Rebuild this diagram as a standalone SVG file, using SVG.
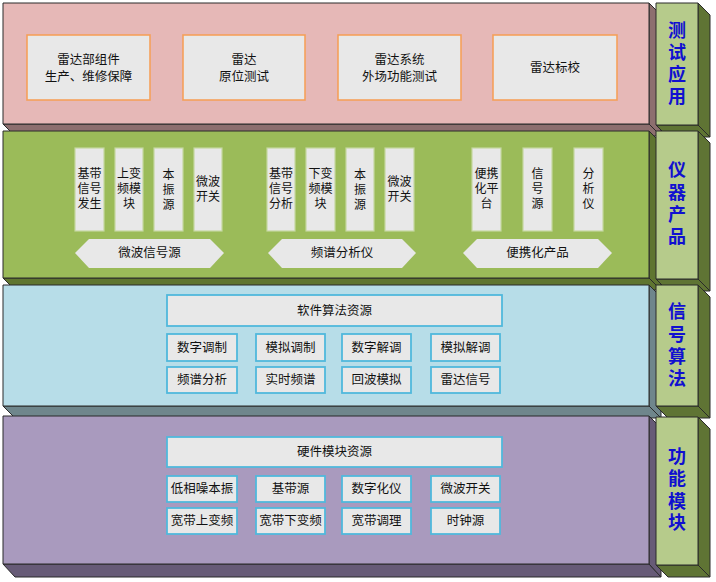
<svg xmlns="http://www.w3.org/2000/svg" width="716" height="582" viewBox="0 0 716 582">
<style>
text{font-family:"Liberation Sans","Noto Sans CJK SC",sans-serif;font-size:12.5px;fill:#111;text-anchor:middle;dominant-baseline:central}
.v{font-size:12px}
.lbl{font-size:18px;font-weight:bold;fill:#1010d0}
.edge{stroke:#2a2a2a;stroke-width:1;stroke-linejoin:round}
.b1{fill:#e8e8e8;stroke:#f5a05a;stroke-width:1.6}
.b2{fill:#e8e8e8;stroke:#c5d8a0;stroke-width:1.2}
.b3{fill:#e8e8e8;stroke:#50b8dc;stroke-width:1.8}
.hex{fill:#e8e8e8}
.side{fill:#b6cb8b}
.sideD{fill:#5f7434}
</style>
<rect width="716" height="582" fill="#ffffff"/>

<!-- Layer 1 -->
<g id="layer1">
<polygon class="edge" fill="#8d6f6f" points="3,124 649,124 661,136 15,136"/>
<polygon class="edge" fill="#8d6f6f" points="649,3 661,15 661,136 649,124"/>
<rect class="edge" x="3" y="3" width="646" height="121" fill="#e6b8b7"/>
<g id="n_l1a"><rect class="b1" x="27" y="35" width="123" height="65"/><text><tspan x="88.5" y="60">雷达部组件</tspan><tspan x="88.5" y="77">生产、维修保障</tspan></text></g>
<g id="n_l1b"><rect class="b1" x="183" y="35" width="122" height="65"/><text><tspan x="244" y="60">雷达</tspan><tspan x="244" y="77">原位测试</tspan></text></g>
<g id="n_l1c"><rect class="b1" x="338" y="35" width="123" height="65"/><text><tspan x="399.5" y="60">雷达系统</tspan><tspan x="399.5" y="77">外场功能测试</tspan></text></g>
<g id="n_l1d"><rect class="b1" x="493" y="35" width="124" height="65"/><text x="555" y="68">雷达标校</text></g>
</g>

<!-- Layer 2 -->
<g id="layer2">
<polygon class="edge" fill="#5f7530" points="3,278 649,278 661,290 15,290"/>
<polygon class="edge" fill="#5f7530" points="649,131 661,143 661,290 649,278"/>
<rect class="edge" x="3" y="131" width="646" height="147" fill="#9bbb59"/>
<g id="n_l2a"><rect class="b2" x="75" y="148" width="29" height="83"/><text class="v"><tspan x="89.5" y="174">基带</tspan><tspan x="89.5" y="189">信号</tspan><tspan x="89.5" y="204">发生</tspan></text></g>
<g id="n_l2b"><rect class="b2" x="115" y="148" width="28" height="83"/><text class="v"><tspan x="129" y="174">上变</tspan><tspan x="129" y="189">频模</tspan><tspan x="129" y="204">块</tspan></text></g>
<g id="n_l2c"><rect class="b2" x="154" y="148" width="29" height="83"/><text class="v"><tspan x="168.5" y="175">本</tspan><tspan x="168.5" y="190">振</tspan><tspan x="168.5" y="205">源</tspan></text></g>
<g id="n_l2d"><rect class="b2" x="194" y="148" width="28" height="83"/><text class="v"><tspan x="208" y="182">微波</tspan><tspan x="208" y="197">开关</tspan></text></g>
<g id="n_l2e"><rect class="b2" x="267" y="148" width="28" height="83"/><text class="v"><tspan x="281" y="174">基带</tspan><tspan x="281" y="189">信号</tspan><tspan x="281" y="204">分析</tspan></text></g>
<g id="n_l2f"><rect class="b2" x="306" y="148" width="29" height="83"/><text class="v"><tspan x="320.5" y="174">下变</tspan><tspan x="320.5" y="189">频模</tspan><tspan x="320.5" y="204">块</tspan></text></g>
<g id="n_l2g"><rect class="b2" x="346" y="148" width="28" height="83"/><text class="v"><tspan x="360" y="175">本</tspan><tspan x="360" y="190">振</tspan><tspan x="360" y="205">源</tspan></text></g>
<g id="n_l2h"><rect class="b2" x="385" y="148" width="29" height="83"/><text class="v"><tspan x="399.5" y="182">微波</tspan><tspan x="399.5" y="197">开关</tspan></text></g>
<g id="n_l2i"><rect class="b2" x="472" y="148" width="29" height="83"/><text class="v"><tspan x="486.5" y="174">便携</tspan><tspan x="486.5" y="189">化平</tspan><tspan x="486.5" y="204">台</tspan></text></g>
<g id="n_l2j"><rect class="b2" x="523" y="148" width="29" height="83"/><text class="v"><tspan x="537.5" y="174">信</tspan><tspan x="537.5" y="189">号</tspan><tspan x="537.5" y="204">源</tspan></text></g>
<g id="n_l2k"><rect class="b2" x="574" y="148" width="29" height="83"/><text class="v"><tspan x="588.5" y="174">分</tspan><tspan x="588.5" y="189">析</tspan><tspan x="588.5" y="204">仪</tspan></text></g>
<g id="n_hex1"><polygon class="hex" points="75,253 89,239 210,239 224,253 210,268 89,268"/><text x="149.5" y="253">微波信号源</text></g>
<g id="n_hex2"><polygon class="hex" points="268,253 282,239 402,239 416,253 402,268 282,268"/><text x="342" y="253">频谱分析仪</text></g>
<g id="n_hex3"><polygon class="hex" points="463,253 477,239 598,239 612,253 598,268 477,268"/><text x="537.5" y="253">便携化产品</text></g>
</g>

<!-- Layer 3 -->
<g id="layer3">
<polygon class="edge" fill="#6f868c" points="3,406 649,406 661,418 15,418"/>
<polygon class="edge" fill="#6f868c" points="649,285 661,297 661,418 649,406"/>
<rect class="edge" x="3" y="285" width="646" height="121" fill="#b7dde8"/>
<g id="n_l3h"><rect class="b3" x="167" y="295" width="335" height="31"/><text x="334.5" y="310.5">软件算法资源</text></g>
<g id="n_l3a"><rect class="b3" x="167" y="334" width="70" height="27"/><text x="202" y="347.5">数字调制</text></g>
<g id="n_l3b"><rect class="b3" x="256" y="334" width="69" height="27"/><text x="290.5" y="347.5">模拟调制</text></g>
<g id="n_l3c"><rect class="b3" x="342" y="334" width="69" height="27"/><text x="376.5" y="347.5">数字解调</text></g>
<g id="n_l3d"><rect class="b3" x="431" y="334" width="69" height="27"/><text x="465.5" y="347.5">模拟解调</text></g>
<g id="n_l3e"><rect class="b3" x="167" y="367" width="70" height="26"/><text x="202" y="380">频谱分析</text></g>
<g id="n_l3f"><rect class="b3" x="256" y="367" width="69" height="26"/><text x="290.5" y="380">实时频谱</text></g>
<g id="n_l3g"><rect class="b3" x="342" y="367" width="69" height="26"/><text x="376.5" y="380">回波模拟</text></g>
<g id="n_l3i"><rect class="b3" x="431" y="367" width="69" height="26"/><text x="465.5" y="380">雷达信号</text></g>
</g>

<!-- Layer 4 -->
<g id="layer4">
<polygon class="edge" fill="#675b77" points="3,564 649,564 661,577 15,577"/>
<polygon class="edge" fill="#675b77" points="649,416 661,428 661,577 649,564"/>
<rect class="edge" x="3" y="416" width="646" height="148" fill="#a99abe"/>
<g id="n_l4h"><rect class="b3" x="167" y="437" width="335" height="30"/><text x="334.5" y="452">硬件模块资源</text></g>
<g id="n_l4a"><rect class="b3" x="167" y="476" width="70" height="26"/><text x="202" y="489">低相噪本振</text></g>
<g id="n_l4b"><rect class="b3" x="256" y="476" width="69" height="26"/><text x="290.5" y="489">基带源</text></g>
<g id="n_l4c"><rect class="b3" x="342" y="476" width="69" height="26"/><text x="376.5" y="489">数字化仪</text></g>
<g id="n_l4d"><rect class="b3" x="431" y="476" width="69" height="26"/><text x="465.5" y="489">微波开关</text></g>
<g id="n_l4e"><rect class="b3" x="167" y="508" width="70" height="26"/><text x="202" y="521">宽带上变频</text></g>
<g id="n_l4f"><rect class="b3" x="256" y="508" width="69" height="26"/><text x="290.5" y="521">宽带下变频</text></g>
<g id="n_l4g"><rect class="b3" x="342" y="508" width="69" height="26"/><text x="376.5" y="521">宽带调理</text></g>
<g id="n_l4i"><rect class="b3" x="431" y="508" width="69" height="26"/><text x="465.5" y="521">时钟源</text></g>
</g>

<!-- Side labels -->
<g id="side1">
<polygon class="edge sideD" points="656,125 698,125 710,137 668,137"/>
<polygon class="edge sideD" points="698,3 710,15 710,137 698,125"/>
<rect class="edge side" x="656" y="3" width="42" height="122"/>
<text class="lbl"><tspan x="677" y="31">测</tspan><tspan x="677" y="53">试</tspan><tspan x="677" y="75">应</tspan><tspan x="677" y="97">用</tspan></text>
</g>
<g id="side2">
<polygon class="edge sideD" points="656,279 698,279 710,291 668,291"/>
<polygon class="edge sideD" points="698,131 710,143 710,291 698,279"/>
<rect class="edge side" x="656" y="131" width="42" height="148"/>
<text class="lbl"><tspan x="677" y="170">仪</tspan><tspan x="677" y="193">器</tspan><tspan x="677" y="215">产</tspan><tspan x="677" y="237">品</tspan></text>
</g>
<g id="side3">
<polygon class="edge sideD" points="656,406 698,406 710,418 668,418"/>
<polygon class="edge sideD" points="698,285 710,297 710,418 698,406"/>
<rect class="edge side" x="656" y="285" width="42" height="121"/>
<text class="lbl"><tspan x="677" y="312">信</tspan><tspan x="677" y="335">号</tspan><tspan x="677" y="357">算</tspan><tspan x="677" y="379">法</tspan></text>
</g>
<g id="side4">
<polygon class="edge sideD" points="656,565 698,565 710,577 668,577"/>
<polygon class="edge sideD" points="698,417 710,429 710,577 698,565"/>
<rect class="edge side" x="656" y="417" width="42" height="148"/>
<text class="lbl"><tspan x="677" y="457">功</tspan><tspan x="677" y="479">能</tspan><tspan x="677" y="502">模</tspan><tspan x="677" y="523">块</tspan></text>
</g>
<g id="connectors"></g>
</svg>
